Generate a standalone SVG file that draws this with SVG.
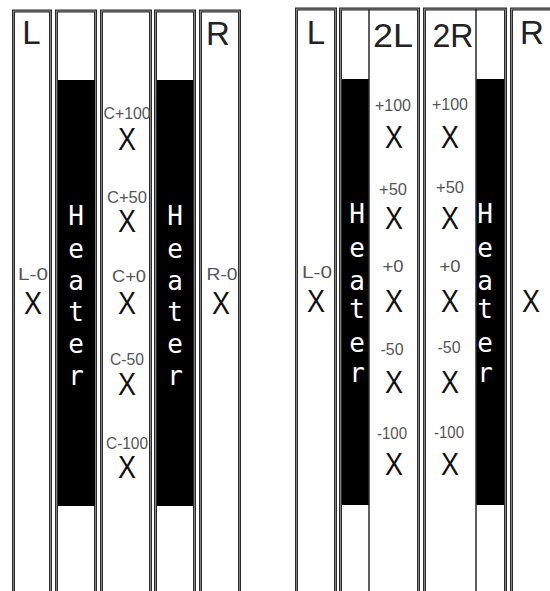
<svg xmlns="http://www.w3.org/2000/svg" width="550" height="591" viewBox="0 0 550 591">
<style>
.col{fill:#fff;stroke:#2a2a2a;stroke-width:3}
.coli{fill:none;stroke:#9a9a9a;stroke-width:0.8}
.div{stroke:#2a2a2a;stroke-width:1.5}
.heat{fill:#000}
.big{font-family:"Liberation Sans",Arial,sans-serif;font-size:33px;fill:#222;text-anchor:middle}
.x{font-family:"Liberation Sans",Arial,sans-serif;font-size:31px;fill:#111;text-anchor:middle}
.lab{font-family:"Liberation Sans",Arial,sans-serif;font-size:16px;fill:#555;text-anchor:middle}
.ht{font-family:"DejaVu Sans Mono",monospace;font-size:26px;fill:#fff;text-anchor:middle}
</style>
<rect width="550" height="591" fill="#fff"/>
<g id="left-L">
<rect class="col" x="13.5" y="11" width="37" height="600"/><rect class="coli" x="13.5" y="11" width="37" height="600"/>
<text class="big" x="31.5" y="44">L</text>
<text class="lab" x="33" y="280" textLength="30" lengthAdjust="spacingAndGlyphs">L-0</text>
<text class="x" x="33" y="314" textLength="18" lengthAdjust="spacingAndGlyphs">X</text>
</g>
<g id="left-heater1">
<rect class="col" x="56.5" y="11" width="39" height="600"/><rect class="coli" x="56.5" y="11" width="39" height="600"/>
<rect class="heat" x="58" y="80" width="37" height="426"/>
<text class="ht" x="76"><tspan x="76" y="225">H</tspan><tspan x="76" y="258">e</tspan><tspan x="76" y="290">a</tspan><tspan x="76" y="321">t</tspan><tspan x="76" y="353">e</tspan><tspan x="76" y="385">r</tspan></text>
</g>
<g id="left-C">
<rect class="col" x="101.5" y="11" width="49" height="600"/><rect class="coli" x="101.5" y="11" width="49" height="600"/>
<text class="lab" x="127" y="119" textLength="47" lengthAdjust="spacingAndGlyphs">C+100</text>
<text class="x" x="127" y="150" textLength="18" lengthAdjust="spacingAndGlyphs">X</text>
<text class="lab" x="127" y="203" textLength="40" lengthAdjust="spacingAndGlyphs">C+50</text>
<text class="x" x="127" y="232" textLength="18" lengthAdjust="spacingAndGlyphs">X</text>
<text class="lab" x="129" y="282" textLength="34" lengthAdjust="spacingAndGlyphs">C+0</text>
<text class="x" x="127" y="314" textLength="18" lengthAdjust="spacingAndGlyphs">X</text>
<text class="lab" x="127" y="365" textLength="34" lengthAdjust="spacingAndGlyphs">C-50</text>
<text class="x" x="127" y="395" textLength="18" lengthAdjust="spacingAndGlyphs">X</text>
<text class="lab" x="127" y="449" textLength="42" lengthAdjust="spacingAndGlyphs">C-100</text>
<text class="x" x="127" y="478" textLength="18" lengthAdjust="spacingAndGlyphs">X</text>
</g>
<g id="left-heater2">
<rect class="col" x="155.5" y="11" width="39" height="600"/><rect class="coli" x="155.5" y="11" width="39" height="600"/>
<rect class="heat" x="157" y="80" width="36" height="426"/>
<text class="ht" x="175"><tspan x="175" y="225">H</tspan><tspan x="175" y="258">e</tspan><tspan x="175" y="290">a</tspan><tspan x="175" y="321">t</tspan><tspan x="175" y="353">e</tspan><tspan x="175" y="385">r</tspan></text>
</g>
<g id="left-R">
<rect class="col" x="200.5" y="11" width="39" height="600"/><rect class="coli" x="200.5" y="11" width="39" height="600"/>
<text class="big" x="218" y="45">R</text>
<text class="lab" x="222" y="280" textLength="31" lengthAdjust="spacingAndGlyphs">R-0</text>
<text class="x" x="221" y="314" textLength="18" lengthAdjust="spacingAndGlyphs">X</text>
</g>
<g id="right-L">
<rect class="col" x="296.5" y="9" width="39" height="600"/><rect class="coli" x="296.5" y="9" width="39" height="600"/>
<text class="big" x="316" y="44">L</text>
<text class="lab" x="317" y="278" textLength="30" lengthAdjust="spacingAndGlyphs">L-0</text>
<text class="x" x="316" y="312" textLength="18" lengthAdjust="spacingAndGlyphs">X</text>
</g>
<g id="right-heater-2L">
<rect class="col" x="340.5" y="9" width="78" height="600"/><rect class="coli" x="340.5" y="9" width="78" height="600"/>
<rect class="heat" x="342" y="79" width="27" height="426"/>
<line class="div" x1="369" y1="9" x2="369" y2="600"/>
<text class="ht" x="357"><tspan x="357" y="223">H</tspan><tspan x="357" y="257">e</tspan><tspan x="357" y="290">a</tspan><tspan x="357" y="318">t</tspan><tspan x="357" y="352">e</tspan><tspan x="357" y="382">r</tspan></text>
<text class="big" x="393" y="47" textLength="40" lengthAdjust="spacingAndGlyphs">2L</text>
<text class="lab" x="393" y="111" textLength="36" lengthAdjust="spacingAndGlyphs">+100</text>
<text class="x" x="394" y="148" textLength="18" lengthAdjust="spacingAndGlyphs">X</text>
<text class="lab" x="393" y="195" textLength="28" lengthAdjust="spacingAndGlyphs">+50</text>
<text class="x" x="394" y="229" textLength="18" lengthAdjust="spacingAndGlyphs">X</text>
<text class="lab" x="393" y="272" textLength="21" lengthAdjust="spacingAndGlyphs">+0</text>
<text class="x" x="394" y="312" textLength="18" lengthAdjust="spacingAndGlyphs">X</text>
<text class="lab" x="392" y="355" textLength="23" lengthAdjust="spacingAndGlyphs">-50</text>
<text class="x" x="394" y="393" textLength="18" lengthAdjust="spacingAndGlyphs">X</text>
<text class="lab" x="392" y="439" textLength="30" lengthAdjust="spacingAndGlyphs">-100</text>
<text class="x" x="394" y="475" textLength="18" lengthAdjust="spacingAndGlyphs">X</text>
</g>
<g id="right-2R-heater">
<rect class="col" x="424.5" y="9" width="81" height="600"/><rect class="coli" x="424.5" y="9" width="81" height="600"/>
<rect class="heat" x="476" y="79" width="28" height="426"/>
<line class="div" x1="476" y1="9" x2="476" y2="600"/>
<text class="ht" x="485"><tspan x="485" y="223">H</tspan><tspan x="485" y="257">e</tspan><tspan x="485" y="290">a</tspan><tspan x="485" y="318">t</tspan><tspan x="485" y="352">e</tspan><tspan x="485" y="382">r</tspan></text>
<text class="big" x="453" y="47" textLength="41" lengthAdjust="spacingAndGlyphs">2R</text>
<text class="lab" x="450" y="110" textLength="36" lengthAdjust="spacingAndGlyphs">+100</text>
<text class="x" x="450" y="148" textLength="18" lengthAdjust="spacingAndGlyphs">X</text>
<text class="lab" x="450" y="193" textLength="28" lengthAdjust="spacingAndGlyphs">+50</text>
<text class="x" x="450" y="229" textLength="18" lengthAdjust="spacingAndGlyphs">X</text>
<text class="lab" x="450" y="272" textLength="21" lengthAdjust="spacingAndGlyphs">+0</text>
<text class="x" x="450" y="312" textLength="18" lengthAdjust="spacingAndGlyphs">X</text>
<text class="lab" x="449" y="353" textLength="23" lengthAdjust="spacingAndGlyphs">-50</text>
<text class="x" x="450" y="393" textLength="18" lengthAdjust="spacingAndGlyphs">X</text>
<text class="lab" x="449" y="438" textLength="30" lengthAdjust="spacingAndGlyphs">-100</text>
<text class="x" x="450" y="475" textLength="18" lengthAdjust="spacingAndGlyphs">X</text>
</g>
<g id="right-R">
<rect class="col" x="511.5" y="9" width="60" height="600"/><rect class="coli" x="511.5" y="9" width="60" height="600"/>
<text class="big" x="532" y="44">R</text>
<text class="x" x="531" y="312" textLength="18" lengthAdjust="spacingAndGlyphs">X</text>
</g>
<g id="connectors"/>
</svg>
